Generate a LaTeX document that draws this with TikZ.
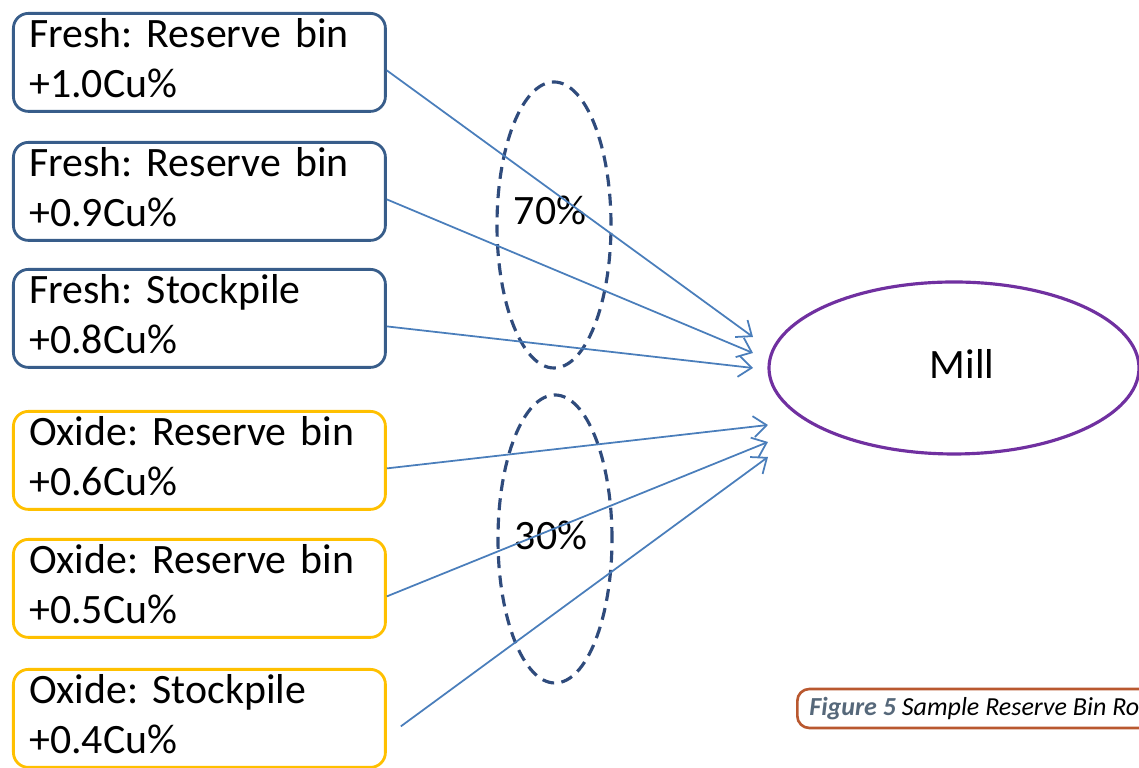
\documentclass[tikz,border=0pt]{standalone}
\usepackage{fontspec}
\setmainfont{Carlito}
\usetikzlibrary{arrows.meta, shapes.geometric}
\definecolor{freshblue}{HTML}{385D8A}
\definecolor{oxidegold}{HTML}{FFC000}
\definecolor{flowblue}{HTML}{4A7EBB}
\definecolor{sharenavy}{HTML}{2F4B7C}
\definecolor{millpurple}{HTML}{7030A0}
\definecolor{capborder}{HTML}{B9582F}
\definecolor{capgrey}{HTML}{56687A}
\frenchspacing

\begin{document}
\begin{tikzpicture}[
    every node/.style={font=\fontsize{11.9}{14.2}\selectfont},
    srcbox/.style={rounded corners=0.15cm, line width=0.8pt, anchor=north west,
        minimum width=3.72cm, minimum height=0.98cm, text width=3.40cm,
        inner xsep=0.16cm, inner ysep=0pt, align=left,
        execute at end node={\rule[-0.09cm]{0pt}{0pt}}},
    freshbox/.style={srcbox, draw=freshblue},
    oxidebox/.style={srcbox, draw=oxidegold},
    share/.style={ellipse, draw=sharenavy, line width=0.9pt,
        dash pattern=on 3.4pt off 2.1pt, minimum width=1.14cm, inner sep=0pt},
    flow/.style={flowblue, line width=0.5pt,
        -{Straight Barb[length=0.13cm, width=0.21cm]}},
]
\useasboundingbox (0,0) rectangle (11.39,7.68);

% ---------------------------------------------------------------- sources
\node[freshbox] (fr1) at (0.12, 7.56) {Fresh: Reserve bin\\+1.0Cu\%};
\node[freshbox] (fr2) at (0.12, 6.27) {Fresh: Reserve bin\\+0.9Cu\%};
\node[freshbox] (fr3) at (0.12, 5.00) {Fresh: Stockpile\\+0.8Cu\%};
\node[oxidebox] (ox1) at (0.12, 3.58) {Oxide: Reserve bin\\+0.6Cu\%};
\node[oxidebox] (ox2) at (0.12, 2.30) {Oxide: Reserve bin\\+0.5Cu\%};
\node[oxidebox] (ox3) at (0.12, 1.00) {Oxide: Stockpile\\+0.4Cu\%};

% ---------------------------------------------------------------- blend shares
\node[share, minimum height=2.86cm] (share70) at (5.54, 5.43) {};
\node[share, minimum height=2.88cm] (share30) at (5.55, 2.29) {};
\node (lab70) at (5.50, 5.58) {70\%};
\node (lab30) at (5.51, 2.33) {30\%};

% ---------------------------------------------------------------- mill
\node[ellipse, draw=millpurple, line width=0.9pt, minimum width=3.70cm,
    minimum height=1.72cm] (mill) at (9.54, 4.00)
    {\hspace{0.16cm}\raisebox{0.08cm}{Mill}};

\coordinate (t1) at (7.53, 4.31);
\coordinate (t2) at (7.53, 4.15);
\coordinate (t3) at (7.53, 4.00);
\coordinate (t4) at (7.68, 3.43);
\coordinate (t5) at (7.68, 3.26);
\coordinate (t6) at (7.68, 3.11);

\foreach \src/\dst in {fr1/t1, fr2/t2, fr3/t3, ox1/t4, ox2/t5}{
    \draw[flow] ([yshift=-0.08cm]\src.east) -- (\dst);
}
\draw[flow] ([xshift=0.14cm, yshift=-0.08cm]ox3.east) -- (t6);

% ---------------------------------------------------------------- caption
\node[draw=capborder, line width=0.75pt, rounded corners=0.12cm, anchor=west,
    minimum height=0.39cm, inner xsep=0.12cm, inner ysep=0pt,
    font=\fontsize{7.4}{8.8}\selectfont\itshape] (caption) at (7.96, 0.595)
    {\textcolor{capgrey}{\bfseries Figure 5} Sample Reserve Bin Ro\kern0.5cm};

\end{tikzpicture}
\end{document}
